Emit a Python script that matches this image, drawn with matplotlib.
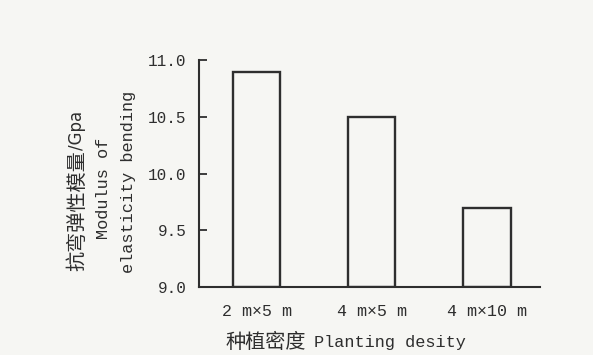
import numpy as np
import matplotlib.pyplot as plt

plt.rcParams['font.family'] = ['Liberation Mono', 'Noto Sans CJK SC', 'DejaVu Sans']

# 数据
densities = ['2 m×5 m', '4 m×5 m', '4 m×10 m']
moe = [10.89, 10.50, 9.70]
yticks = [9.0, 9.5, 10.0, 10.5, 11.0]

ink = '#2e2e2e'
bg = '#f6f6f3'
W, H = 593, 355

fig = plt.figure(figsize=(5.93, 3.55), dpi=100, facecolor=bg)
ax = fig.add_axes([199/W, 1-287/H, 341/W, 227/H])
ax.set_facecolor(bg)

x = np.arange(len(densities))
ax.bar(x, np.array(moe) - 9.0, bottom=9.0, width=0.41,
       facecolor='none', edgecolor=ink, linewidth=1.7)

ax.set_ylim(9.0, 11.0)
ax.set_xlim(-0.5, 2.46)
ax.set_yticks(yticks)
ax.set_yticklabels([f'{v:.1f}' for v in yticks])
ax.set_xticks(x)
ax.set_xticklabels(densities)

for s in ['top', 'right']:
    ax.spines[s].set_visible(False)
for s in ['left', 'bottom']:
    ax.spines[s].set_color(ink)
    ax.spines[s].set_linewidth(1.5)

ax.tick_params(axis='y', direction='in', length=6, width=1.3, color=ink,
               labelsize=11.5, labelcolor=ink, pad=9)
ax.tick_params(axis='x', length=0, labelsize=12, labelcolor=ink, pad=12)

# 横轴标题（中文部分稍大）
fig.text(225/W, 1-342/H, '种植密度', ha='left', va='center',
         fontsize=14.5, color=ink)
fig.text(314/W, 1-342/H, 'Planting desity', ha='left', va='center',
         fontsize=12.2, color=ink)

# 三行纵轴标签
fig.text(77/W, 1-271/H, '抗弯弹性模量', rotation=90, ha='center',
         va='bottom', fontsize=14.5, color=ink)
fig.text(77/W, 1-150/H, '/Gpa', rotation=90, ha='center',
         va='bottom', fontsize=12, color=ink,
         family=['DejaVu Sans Condensed', 'DejaVu Sans'])
fig.text(104/W, 1-188/H, 'Modulus of', rotation=90, ha='center',
         va='center', fontsize=12.2, color=ink)
fig.text(129/W, 1-182/H, 'elasticity bending', rotation=90, ha='center',
         va='center', fontsize=12.2, color=ink)

fig.savefig('out.png', dpi=100, facecolor=bg)
